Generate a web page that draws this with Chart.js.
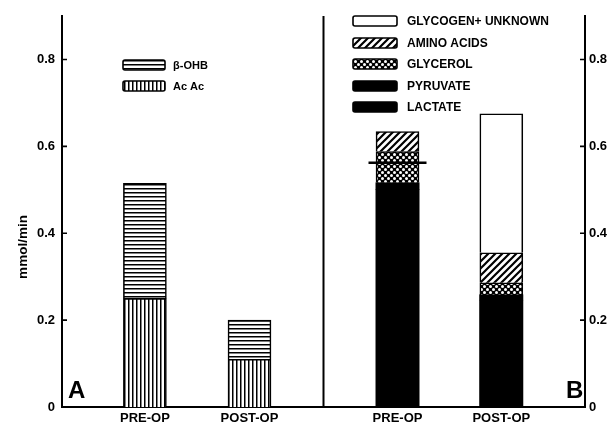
<!DOCTYPE html>
<html>
<head>
<meta charset="utf-8">
<script src="https://cdn.jsdelivr.net/npm/chart.js@4"></script>
<style>
  html, body { margin: 0; padding: 0; background: #fff; }
</style>
</head>
<body>
<canvas id="myChart" width="613" height="427"></canvas>
<script>
// values, mmol/min
const categories = ['PRE-OP', 'POST-OP'];
const acAc = [0.25, 0.11];
const betaOHB = [0.265, 0.09];
const lactate = [0.50, 0.245];
const pyruvate = [0.016, 0.013];
const glycerol = [0.072, 0.028];
const aminoAcids = [0.046, 0.069];
const glycogenUnknown = [0, 0.32];
const preOpMark = [0.562];
const yTicks = [0, 0.2, 0.4, 0.6, 0.8];
const yTickLabels = ['0', '0.2', '0.4', '0.6', '0.8'];

// where the two categories sit on the shared x axis (panel A is 0-1, panel B is 1-2)
const slotsA = [0.317, 0.717];
const slotsB = [1.283, 1.68];

const FONT = 'Liberation Sans, Arial, sans-serif';
Chart.defaults.font.family = FONT;
Chart.defaults.color = '#000';

function makePattern(kind) {
    let c = document.createElement('canvas');
    let g = c.getContext('2d');
    if (kind === 'hstripe') {
        c.width = 4; c.height = 4;
        g.fillStyle = '#fff'; g.fillRect(0, 0, 4, 4);
        g.fillStyle = '#000'; g.fillRect(0, 0, 4, 1.5);
    } else if (kind === 'vstripe') {
        c.width = 4; c.height = 4;
        g.fillStyle = '#fff'; g.fillRect(0, 0, 4, 4);
        g.fillStyle = '#000'; g.fillRect(0, 0, 1.5, 4);
    } else if (kind === 'hatch') {
        c.width = 7; c.height = 7;
        g.fillStyle = '#fff'; g.fillRect(0, 0, 7, 7);
        g.strokeStyle = '#000'; g.lineWidth = 2.2;
        g.beginPath();
        g.moveTo(-1, 8); g.lineTo(8, -1);
        g.moveTo(-1, 1); g.lineTo(1, -1);
        g.moveTo(6, 8); g.lineTo(8, 6);
        g.stroke();
    } else if (kind === 'dots') {
        c.width = 6; c.height = 6;
        g.fillStyle = '#000'; g.fillRect(0, 0, 6, 6);
        g.fillStyle = '#fff';
        g.beginPath(); g.arc(1.5, 1.5, 1.5, 0, Math.PI * 2); g.fill();
        g.beginPath(); g.arc(4.5, 4.5, 1.5, 0, Math.PI * 2); g.fill();
    }
    return g.createPattern(c, 'repeat');
}

function series(label, values, slots, fill) {
    return {
        type: 'bar',
        label: label,
        data: values.map((v, i) => ({x: slots[i], y: v})),
        backgroundColor: fill,
        borderColor: '#000',
        borderWidth: 1.6,
        barThickness: 43,
        yAxisID: 'y'
    };
}

let lactateBars = series('LACTATE', lactate, slotsB, '#000');
let pyruvateBars = series('PYRUVATE', pyruvate, slotsB, '#000');
// both are solid black in the figure, so hide the seam between them
lactateBars.inflateAmount = 0.7;
pyruvateBars.inflateAmount = 0.7;

let datasets = [
    series('Ac Ac', acAc, slotsA, makePattern('vstripe')),
    series('β-OHB', betaOHB, slotsA, makePattern('hstripe')),
    lactateBars,
    pyruvateBars,
    series('GLYCEROL', glycerol, slotsB, makePattern('dots')),
    series('AMINO ACIDS', aminoAcids, slotsB, makePattern('hatch')),
    series('GLYCOGEN+ UNKNOWN', glycogenUnknown, slotsB, '#fff'),
    {
        type: 'line',
        label: 'mark',
        data: [{x: slotsB[0], y: preOpMark[0]}],
        showLine: false,
        pointStyle: 'line',
        pointRadius: 29,
        pointHoverRadius: 29,
        pointBorderWidth: 2.5,
        pointBorderColor: '#000',
        yAxisID: 'y',
        order: -1
    }
];

// legend boxes: [dataset index, left, top]
let legendA = [[1, 123, 60], [0, 123, 81]];
let legendB = [[6, 353, 16], [5, 353, 38], [4, 353, 59], [3, 353, 81], [2, 353, 102]];

function box(ctx, x, y, w, h, fill) {
    ctx.beginPath();
    ctx.roundRect(x, y, w, h, 2);
    ctx.fillStyle = fill;
    ctx.fill();
    ctx.lineWidth = 1.6;
    ctx.strokeStyle = '#000';
    ctx.stroke();
}

function noPad(s) {
    s.paddingTop = 0; s.paddingBottom = 0; s.paddingLeft = 0; s.paddingRight = 0;
}

const decorations = {
    id: 'decorations',
    afterDraw(chart) {
        let ctx = chart.ctx;
        let a = chart.chartArea;
        let x = chart.scales.x, y = chart.scales.y;
        ctx.save();
        ctx.strokeStyle = '#000';
        ctx.lineWidth = 2;
        // panel divider
        let xd = x.getPixelForValue(1);
        ctx.beginPath(); ctx.moveTo(xd, a.top); ctx.lineTo(xd, a.bottom); ctx.stroke();
        // inward tick marks on both y axes
        ctx.lineWidth = 1.6;
        yTicks.forEach(v => {
            let py = y.getPixelForValue(v);
            ctx.beginPath();
            ctx.moveTo(a.left, py); ctx.lineTo(a.left + 5, py);
            ctx.moveTo(a.right - 5, py); ctx.lineTo(a.right, py);
            ctx.stroke();
        });
        // y axis title
        ctx.fillStyle = '#000';
        ctx.save();
        ctx.translate(23, 247);
        ctx.rotate(-Math.PI / 2);
        ctx.font = 'bold 13.5px ' + FONT;
        ctx.textAlign = 'center';
        ctx.textBaseline = 'middle';
        ctx.fillText('mmol/min', 0, 0);
        ctx.restore();
        // panel letters
        ctx.font = 'bold 24px ' + FONT;
        ctx.textBaseline = 'alphabetic';
        ctx.textAlign = 'left';
        ctx.fillText('A', 68, 398);
        ctx.fillText('B', 566, 398);
        // legends
        ctx.textBaseline = 'middle';
        ctx.font = 'bold 11px ' + FONT;
        legendA.forEach(([i, lx, ly]) => {
            box(ctx, lx, ly, 42, 10, chart.data.datasets[i].backgroundColor);
            ctx.fillStyle = '#000';
            ctx.fillText(chart.data.datasets[i].label, lx + 50, ly + 5.5);
        });
        ctx.font = 'bold 12px ' + FONT;
        legendB.forEach(([i, lx, ly]) => {
            box(ctx, lx, ly, 44, 10, chart.data.datasets[i].backgroundColor);
            ctx.fillStyle = '#000';
            ctx.fillText(chart.data.datasets[i].label, lx + 54, ly + 5.5);
        });
        ctx.restore();
    }
};

let ctx = document.getElementById('myChart');
let myChart = new Chart(ctx, {
    data: {datasets: datasets},
    plugins: [decorations],
    options: {
        responsive: false,
        animation: false,
        layout: {autoPadding: false, padding: {top: 16, left: 0, right: 0, bottom: 0}},
        plugins: {legend: {display: false}, tooltip: {enabled: false}},
        scales: {
            x: {
                type: 'linear',
                min: 0,
                max: 2,
                offset: false,
                stacked: true,
                grid: {display: false, drawTicks: false, offset: false},
                border: {display: true, color: '#000', width: 2},
                afterBuildTicks: s => { s.ticks = slotsA.concat(slotsB).map(v => ({value: v})); },
                afterFit: s => { s.height = 20; noPad(s); },
                ticks: {
                    autoSkip: false,
                    maxRotation: 0,
                    padding: 4,
                    color: '#000',
                    font: {size: 13, weight: 'bold'},
                    callback: (v, i) => categories[i % 2]
                }
            },
            y: {
                position: 'left',
                min: 0,
                max: 0.9,
                stacked: true,
                grid: {display: false, drawTicks: false},
                border: {display: true, color: '#000', width: 2},
                afterBuildTicks: s => { s.ticks = yTicks.map(v => ({value: v})); },
                afterFit: s => { s.width = 62; noPad(s); },
                ticks: {
                    padding: 7,
                    color: '#000',
                    font: {size: 13, weight: 'bold'},
                    callback: (v, i) => yTickLabels[i]
                }
            },
            y2: {
                position: 'right',
                min: 0,
                max: 0.9,
                grid: {display: false, drawTicks: false},
                border: {display: true, color: '#000', width: 2},
                afterBuildTicks: s => { s.ticks = yTicks.map(v => ({value: v})); },
                afterFit: s => { s.width = 28; noPad(s); },
                ticks: {
                    padding: 4,
                    color: '#000',
                    font: {size: 13, weight: 'bold'},
                    callback: (v, i) => yTickLabels[i]
                }
            }
        }
    }
});
</script>
</body>
</html>
